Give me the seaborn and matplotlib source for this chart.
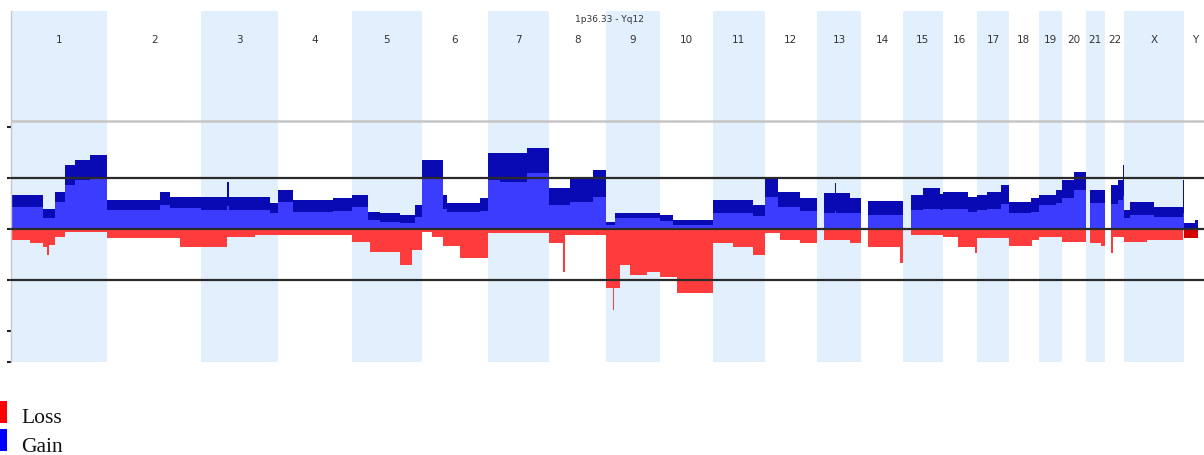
import numpy as np
import pandas as pd
import matplotlib
matplotlib.use("Agg")
import matplotlib.pyplot as plt
from matplotlib.patches import Rectangle
import seaborn as sns

# Chromosomes along the genome axis and their lengths (Mb)
CHROMS = [str(i) for i in range(1, 23)] + ["X", "Y"]
CHROM_LENGTHS_MB = [249, 243, 198, 191, 181, 171, 159, 146, 141, 136, 135, 134,
                    115, 107, 103, 90, 81, 78, 59, 63, 48, 51, 155, 59]

# Gain frequency (%) per segment: chromosome, start Mb, end Mb, upper envelope, lower envelope
GAIN_SEGMENTS = [
    ("1", 0, 83, 16.7, 10.8), ("1", 83, 114, 9.8, 5.4), ("1", 114, 140, 18.1, 13.2),
    ("1", 140, 166, 31.4, 21.6), ("1", 166, 204, 33.8, 24.0), ("1", 204, 249, 36.3, 25.0),
    ("2", 0, 137, 14.2, 9.3), ("2", 137, 163, 18.1, 11.8), ("2", 163, 243, 15.7, 10.3),
    ("3", 0, 67, 15.7, 9.3), ("3", 67, 72, 23.0, 11.0), ("3", 72, 177, 15.7, 9.3),
    ("3", 177, 198, 12.7, 8.0),
    ("4", 0, 40, 19.1, 13.2), ("4", 40, 143, 14.2, 8.3), ("4", 143, 191, 15.2, 9.0),
    ("5", 0, 43, 16.7, 10.8), ("5", 43, 74, 8.3, 4.4), ("5", 74, 126, 7.8, 3.4),
    ("5", 126, 164, 6.9, 3.0), ("5", 164, 181, 11.8, 5.9),
    ("6", 0, 56, 33.8, 25.0), ("6", 56, 66, 16.7, 10.0), ("6", 66, 151, 12.7, 8.3),
    ("6", 151, 171, 15.2, 9.0),
    ("7", 0, 32, 37.2, 24.0), ("7", 32, 102, 37.0, 23.0), ("7", 102, 159, 39.7, 27.4),
    ("8", 0, 54, 20.1, 11.8), ("8", 54, 114, 25.0, 13.2), ("8", 114, 146, 28.9, 15.7),
    ("9", 0, 25, 3.4, 2.0), ("9", 25, 141, 7.8, 5.4),
    ("10", 0, 34, 6.9, 4.0), ("10", 34, 136, 4.4, 2.0),
    ("11", 0, 105, 14.2, 7.8), ("11", 105, 135, 11.8, 6.5),
    ("12", 0, 34, 25.0, 15.7), ("12", 34, 91, 18.0, 10.8), ("12", 91, 134, 15.2, 9.0),
    ("13", 19, 47, 17.6, 8.0), ("13", 47, 50, 22.5, 9.0), ("13", 50, 87, 17.6, 8.0),
    ("13", 87, 115, 15.2, 7.8),
    ("14", 18, 107, 13.7, 6.9),
    ("15", 22, 53, 16.7, 9.3), ("15", 53, 97, 20.0, 10.0), ("15", 97, 103, 17.0, 9.3),
    ("16", 0, 65, 18.1, 10.0), ("16", 65, 90, 15.7, 8.3),
    ("17", 0, 26, 16.7, 9.3), ("17", 26, 60, 18.1, 10.0), ("17", 60, 81, 21.6, 12.0),
    ("18", 0, 57, 13.2, 7.8), ("18", 57, 78, 15.2, 8.3),
    ("19", 0, 45, 16.7, 11.8), ("19", 45, 59, 19.1, 12.5),
    ("20", 0, 31, 24.0, 15.2), ("20", 31, 63, 27.9, 19.1),
    ("21", 10, 48, 19.1, 12.7),
    ("22", 18, 36, 21.6, 12.0), ("22", 36, 49, 24.0, 14.0), ("22", 49, 51, 31.4, 16.0),
    ("X", 0, 16, 9.3, 5.4), ("X", 16, 76, 13.2, 7.0), ("X", 76, 152, 10.8, 5.9),
    ("X", 152, 155, 24.0, 8.0),
    ("Y", 0, 28, 2.9, 0.5), ("Y", 28, 35, 4.4, 0.5),
]

# Loss frequency (%) per segment: chromosome, start Mb, end Mb, depth
LOSS_SEGMENTS = [
    ("1", 0, 50, 5.4), ("1", 50, 83, 6.9), ("1", 83, 93, 8.8), ("1", 93, 98, 12.7),
    ("1", 98, 114, 7.8), ("1", 114, 140, 3.9), ("1", 140, 249, 1.5),
    ("2", 0, 188, 4.4), ("2", 188, 243, 8.8),
    ("3", 0, 67, 8.8), ("3", 67, 140, 3.9), ("3", 140, 198, 2.9),
    ("4", 0, 191, 2.9),
    ("5", 0, 48, 6.4), ("5", 48, 126, 11.5), ("5", 126, 157, 17.6), ("5", 157, 181, 10.3),
    ("6", 0, 27, 1.5), ("6", 27, 56, 3.9), ("6", 56, 100, 8.3), ("6", 100, 171, 14.0),
    ("7", 0, 159, 2.0),
    ("8", 0, 36, 6.9), ("8", 36, 41, 21.0), ("8", 41, 146, 2.9),
    ("9", 0, 18, 29.0), ("9", 18, 22, 39.7), ("9", 22, 38, 29.0), ("9", 38, 64, 17.6),
    ("9", 64, 108, 22.5), ("9", 108, 141, 21.0),
    ("10", 0, 44, 23.5), ("10", 44, 136, 31.4),
    ("11", 0, 53, 6.9), ("11", 53, 105, 8.8), ("11", 105, 135, 12.7),
    ("12", 0, 40, 2.0), ("12", 40, 91, 5.4), ("12", 91, 134, 6.9),
    ("13", 19, 87, 5.4), ("13", 87, 115, 6.9),
    ("14", 18, 101, 8.8), ("14", 101, 107, 16.7),
    ("15", 22, 103, 2.9),
    ("16", 0, 39, 3.9), ("16", 39, 85, 8.8), ("16", 85, 90, 11.8),
    ("17", 0, 81, 4.4),
    ("18", 0, 60, 8.3), ("18", 60, 78, 5.4),
    ("19", 0, 59, 3.9),
    ("20", 0, 63, 6.4),
    ("21", 10, 40, 6.9), ("21", 40, 48, 8.3),
    ("22", 18, 22, 11.8), ("22", 22, 51, 3.9),
    ("X", 0, 60, 6.4), ("X", 60, 152, 5.4),
    ("Y", 0, 35, 4.4),
]

Y_TICKS = [50, 25, 0, -25, -50, -65]
THRESHOLDS = [25, 0, -25]
UPPER_GUIDE = 53
REGION_LABEL = "1p36.33 - Yq12"
LEGEND_LABELS = ["Loss", "Gain"]

GAIN_DARK = "#0a0ab4"
GAIN_LIGHT = "#3c3cff"
LOSS_RED = "#ff3c3c"
LOSS_DARK = "#d40000"
BAND_BLUE = "#e2effc"

sns.set_style("white")
plt.rcParams["font.family"] = ["Liberation Sans Narrow", "DejaVu Sans"]

offsets = dict(zip(CHROMS, np.concatenate([[0], np.cumsum(CHROM_LENGTHS_MB)[:-1]])))
genome_len = float(np.sum(CHROM_LENGTHS_MB))

gain = pd.DataFrame(GAIN_SEGMENTS, columns=["chrom", "start", "end", "top", "floor"])
loss = pd.DataFrame(LOSS_SEGMENTS, columns=["chrom", "start", "end", "depth"])
loss["neg"] = -loss["depth"]
for df in (gain, loss):
    off = df["chrom"].map(offsets).astype(float)
    df["g0"] = df["start"] + off
    df["g1"] = df["end"] + off
    df["mid"] = (df["g0"] + df["g1"]) / 2


def step_layer(ax, df, column, color):
    """Stepped fill: one histogram bin per segment, weighted by the frequency."""
    edges = np.unique(np.concatenate([df["g0"].to_numpy(), df["g1"].to_numpy()]))
    sns.histplot(data=df, x="mid", weights=column, bins=edges.tolist(), stat="count",
                 element="step", fill=True, color=color, alpha=1, linewidth=0, ax=ax)


fig = plt.figure(figsize=(12.04, 4.55), dpi=100)
W, H = 1204, 455
ax = fig.add_axes([11 / W, (H - 362) / H, 1196 / W, 351 / H])

# alternating chromosome bands
for i, (c, n) in enumerate(zip(CHROMS, CHROM_LENGTHS_MB)):
    if i % 2 == 0:
        ax.axvspan(offsets[c], offsets[c] + n, color=BAND_BLUE, lw=0, zorder=0)
    ax.text(offsets[c] + n / 2, 92.6, c, ha="center", va="center",
            fontsize=7.5, color="#333333", zorder=6)

step_layer(ax, gain, "top", GAIN_DARK)
step_layer(ax, gain, "floor", GAIN_LIGHT)
step_layer(ax, loss, "neg", LOSS_RED)
step_layer(ax, loss[loss["chrom"] == "Y"], "neg", LOSS_DARK)

ax.axhline(UPPER_GUIDE, color="#c6c6c6", lw=1.8, zorder=5)
for t in THRESHOLDS:
    ax.axhline(t, color="#2a2a2a", lw=1.6, zorder=5)

ax.set_xlim(0, genome_len)
ax.set_ylim(-65.2, 106.8)
ax.set_xticks([])
ax.set_yticks(Y_TICKS)
ax.set_yticklabels([])
ax.tick_params(axis="y", length=3, width=1.5, color="#222222", direction="out", left=True)
ax.set_xlabel("")
ax.set_ylabel("")
for side in ("top", "right", "bottom"):
    ax.spines[side].set_visible(False)
ax.spines["left"].set_color("#c8c8c8")
ax.spines["left"].set_linewidth(1.0)

fig.text(609 / W, 1 - 19 / H, REGION_LABEL, ha="center", va="center",
         fontsize=6.5, color="#333333")

# legend swatches
for (label, color, top_px, base_px) in [(LEGEND_LABELS[0], "#ff0000", 401, 423),
                                        (LEGEND_LABELS[1], "#0000ff", 429, 452)]:
    fig.add_artist(Rectangle((0, 1 - (top_px + 22) / H), 7 / W, 22 / H,
                             transform=fig.transFigure, color=color, lw=0))
    fig.text(21 / W, 1 - base_px / H, label, ha="left", va="baseline",
             fontsize=15.5, family=["Liberation Serif", "DejaVu Serif"], color="#111111")

fig.savefig("out.png", dpi=100)
